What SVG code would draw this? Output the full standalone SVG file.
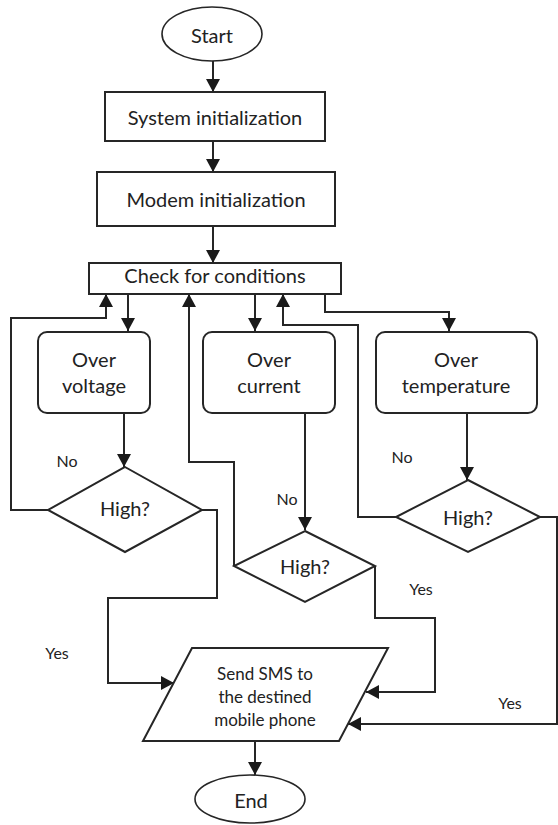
<svg xmlns="http://www.w3.org/2000/svg" width="558" height="825" viewBox="0 0 558 825">
<style>
.shape{fill:#fff;stroke:#262626;stroke-width:2}
.term{fill:#fff;stroke:#262626;stroke-width:1.6}
.t{font-family:Lato,"Liberation Sans",sans-serif;font-size:20px;fill:#222;text-anchor:middle;dominant-baseline:central}
.s{font-family:Lato,"Liberation Sans",sans-serif;font-size:17px;fill:#222;text-anchor:middle;dominant-baseline:central}
.lbl{font-family:Lato,"Liberation Sans",sans-serif;font-size:16px;fill:#222;text-anchor:middle;dominant-baseline:central}
.c{fill:none;stroke:#262626;stroke-width:2;marker-end:url(#ah)}
</style>
<defs>
<marker id="ah" markerUnits="userSpaceOnUse" markerWidth="14" markerHeight="14" refX="13" refY="7" orient="auto">
<path d="M0,0 L13,7 L0,14 Z" fill="#1a1a1a"/>
</marker>
</defs>
<rect width="558" height="825" fill="#fff"/>
<g id="connectors">
<path class="c" d="M213,61 V92"/>
<path class="c" d="M213,141 V172"/>
<path class="c" d="M213,226 V263"/>
<path class="c" d="M128,294 V331"/>
<path class="c" d="M124,413 V467"/>
<path class="c" d="M48,510 H11 V318 H106 V294"/>
<path class="c" d="M202,510 H217 V598 H108 V683 H174"/>
<path class="c" d="M255,294 V331"/>
<path class="c" d="M305,413 V530"/>
<path class="c" d="M234,566 V462 H189 V294"/>
<path class="c" d="M375,566 V618 H435 V692 H366"/>
<path class="c" d="M325,294 V312 H449 V331"/>
<path class="c" d="M467,413 V480"/>
<path class="c" d="M396,517 H358 V325 H283 V294"/>
<path class="c" d="M540,517 H557 V724 H348"/>
<path class="c" d="M255,741 V775"/>
</g>
<g id="start"><ellipse class="term" cx="212" cy="34" rx="50" ry="27"/><text class="t" x="212" y="35">Start</text></g>
<g id="sysinit"><rect class="shape" x="105" y="92" width="220" height="49"/><text class="t" x="215" y="117">System initialization</text></g>
<g id="modeminit"><rect class="shape" x="97" y="172" width="238" height="54"/><text class="t" x="216" y="199">Modem initialization</text></g>
<g id="check"><rect class="shape" x="89" y="263" width="252" height="31"/><text class="t" x="215" y="275">Check for conditions</text></g>
<g id="overvoltage"><rect class="shape" x="38" y="332" width="112" height="81" rx="9"/><text class="t" x="94" y="359">Over</text><text class="t" x="94" y="385">voltage</text></g>
<g id="overcurrent"><rect class="shape" x="203" y="332" width="132" height="81" rx="9"/><text class="t" x="269" y="359">Over</text><text class="t" x="269" y="385">current</text></g>
<g id="overtemp"><rect class="shape" x="376" y="332" width="161" height="81" rx="9"/><text class="t" x="456" y="359">Over</text><text class="t" x="456" y="385">temperature</text></g>
<g id="high1"><polygon class="shape" points="125,467 202,510 125,552 48,510"/><text class="t" x="125" y="508">High?</text></g>
<g id="high2"><polygon class="shape" points="305,531 375,566 305,602 234,566"/><text class="t" x="305" y="566">High?</text></g>
<g id="high3"><polygon class="shape" points="468,480 540,517 468,552 396,517"/><text class="t" x="468" y="517">High?</text></g>
<g id="sms"><polygon class="shape" points="192,648 388,648 339,741 143,741"/><text class="s" x="265" y="673">Send SMS to</text><text class="s" x="265" y="696">the destined</text><text class="s" x="265" y="719">mobile phone</text></g>
<g id="end"><ellipse class="term" cx="250" cy="799" rx="55" ry="24"/><text class="t" x="251" y="800">End</text></g>
<g id="labels">
<text class="lbl" x="67" y="460">No</text>
<text class="lbl" x="287" y="498">No</text>
<text class="lbl" x="402" y="456">No</text>
<text class="lbl" x="57" y="652">Yes</text>
<text class="lbl" x="421" y="588">Yes</text>
<text class="lbl" x="510" y="702">Yes</text>
</g>
</svg>
